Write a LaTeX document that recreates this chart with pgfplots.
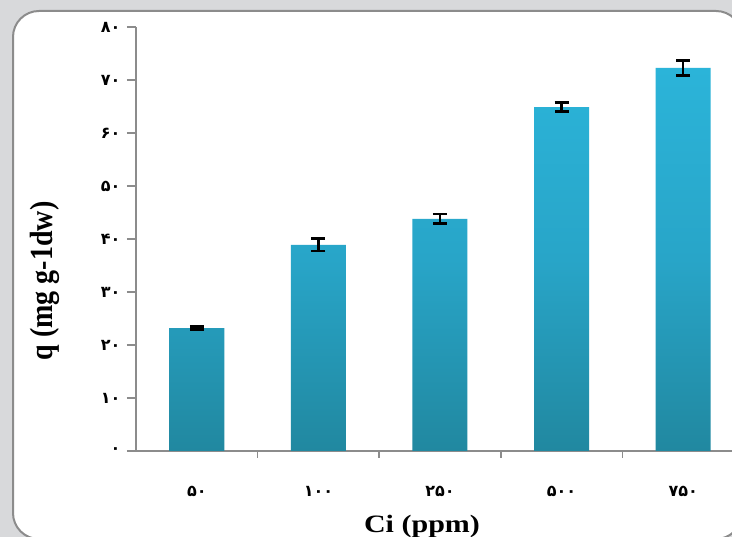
\documentclass[border=0pt]{standalone}
\usepackage{pgfplots}
\pgfplotsset{compat=1.18}
\usepackage{pgfplotstable}
\usepackage{fontspec}
\setmainfont{Liberation Serif}
\newfontfamily\fa[Script=Arabic]{DejaVu Sans}
\definecolor{bggray}{RGB}{216,217,219}
\definecolor{panelborder}{RGB}{140,140,140}
\definecolor{axisgray}{RGB}{140,140,140}
\definecolor{bartop}{RGB}{43,180,217}
\definecolor{barmid}{RGB}{40,165,200}
\definecolor{barbot}{RGB}{33,136,160}
\pgfplotstableread{
x y err
0 23.2 0.3
1 38.9 1.2
2 43.8 0.9
3 64.9 0.9
4 72.3 1.4
}\datatable
\begin{document}
\begin{tikzpicture}
\path[use as bounding box, clip] (0,0) rectangle (732pt,537pt);
\fill[bggray] (0,0) rectangle (732pt,537pt);
\draw[panelborder, line width=2pt, fill=white, rounded corners=26pt] (13pt,-2pt) rectangle (742pt,526pt);
\begin{axis}[
  at={(136pt,86pt)}, anchor=south west,
  width=608pt, height=424pt, scale only axis,
  xmin=-0.5, xmax=4.5, ymin=0, ymax=80,
  axis x line*=bottom, axis y line*=left,
  axis line style={draw=axisgray, line width=1.5pt},
  every tick/.style={draw=axisgray, line width=1.5pt},
  tick align=outside,
  major tick length=9pt,
  minor tick length=7pt,
  ytick={0,10,...,80},
  yticklabels={۰,۱۰,۲۰,۳۰,۴۰,۵۰,۶۰,۷۰,۸۰},
  xtick={0,1,2,3,4},
  xticklabels={۵۰,۱۰۰,۲۵۰,۵۰۰,۷۵۰},
  major x tick style={draw=none},
  minor xtick={0.5,1.5,2.5,3.5},
  ticklabel style={font=\fa\bfseries\fontsize{16}{18}\selectfont},
  xticklabel style={yshift=-23pt},
  yticklabel style={xshift=-3pt},
  ybar, bar width=55pt,
  clip=false,
]
\addplot[draw=none, top color=bartop, bottom color=barbot, middle color=barmid,
  error bars/.cd, y dir=both, y explicit,
  error bar style={draw=black, line width=2.6pt},
  error mark options={rotate=90, mark size=7pt, line width=2.6pt, draw=black}]
  table[x=x, y=y, y error=err] {\datatable};
\end{axis}
\node[font=\bfseries\fontsize{25}{30}\selectfont, xscale=1.2, anchor=base] at (422pt,4pt) {Ci (ppm)};
\node[font=\bfseries\fontsize{28}{32}\selectfont, rotate=90, yscale=1.15] at (45pt,256pt) {q (mg g-1dw)};
\end{tikzpicture}
\end{document}
